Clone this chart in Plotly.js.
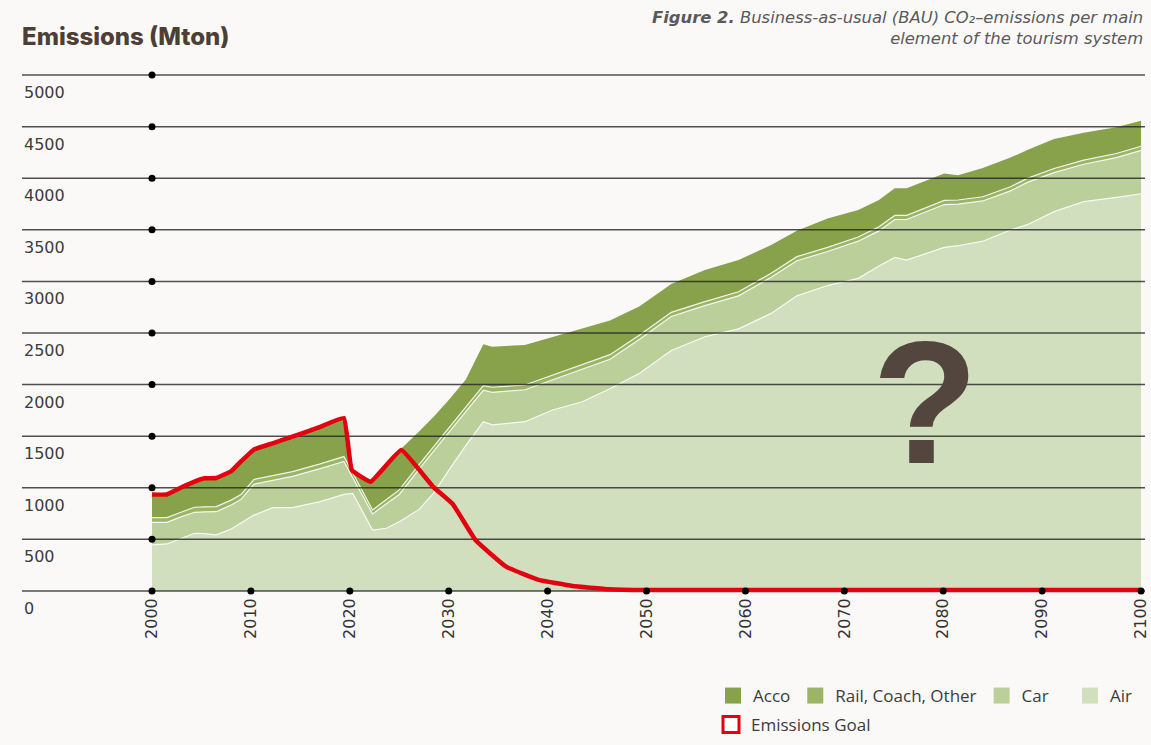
<!DOCTYPE html>
<html>
<head>
<meta charset="utf-8">
<script src="https://cdn.plot.ly/plotly-3.0.1.min.js"></script>
<style>
html,body{margin:0;padding:0;background:#faf9f7;}
#chart{width:1151px;height:745px;}
</style>
</head>
<body>
<div id="chart"></div>
<script>
// ---- data (Mton CO2) ----
const years = [2000, 2001.5, 2003, 2004.3, 2005.3, 2006.5, 2008, 2009, 2010.3, 2012.2, 2014.2, 2017, 2019.4, 2020.3, 2022.3, 2023.7, 2025, 2027, 2028.5, 2030, 2031.7, 2033.5, 2034.4, 2037.7, 2040.5, 2043.5, 2046.3, 2049.3, 2052.5, 2055.9, 2059.3, 2062.6, 2065.2, 2068.3, 2071.4, 2073.5, 2075.1, 2076.3, 2080.1, 2081.5, 2084, 2086.8, 2088.5, 2091.2, 2094.2, 2097.5, 2100];
const air  = [446, 455, 510, 559, 555, 543, 600, 660, 735, 807, 807, 865, 935, 945, 590, 607, 670, 790, 950, 1169, 1405, 1640, 1609, 1640, 1754, 1834, 1960, 2110, 2330, 2464, 2540, 2690, 2860, 2960, 3030, 3150, 3233, 3207, 3330, 3346, 3390, 3498, 3550, 3676, 3773, 3815, 3850];
const car  = [219, 210, 210, 203, 212, 225, 232, 227, 299, 263, 303, 320, 320, 152, 156, 238, 265, 390, 410, 371, 330, 305, 316, 310, 291, 316, 285, 330, 330, 301, 320, 350, 340, 330, 360, 340, 367, 393, 415, 404, 390, 380, 410, 379, 363, 385, 420];
const rail = [45, 45, 45, 49, 48, 49, 48, 48, 46, 44, 46, 46, 47, 45, 39, 41, 44, 45, 45, 44, 45, 45, 49, 46, 45, 45, 45, 40, 40, 39, 40, 39, 40, 40, 40, 40, 40, 40, 40, 39, 41, 40, 39, 40, 40, 40, 40];
const acco = [225, 225, 240, 249, 277, 278, 280, 320, 290, 317, 339, 359, 374, 23, 280, 331, 381, 319, 285, 267, 265, 400, 393, 388, 370, 350, 330, 280, 275, 306, 307, 274, 250, 280, 262, 259, 262, 262, 260, 241, 279, 282, 274, 285, 264, 255, 247];

const goalYears  = [2000, 2001.5, 2003, 2004.3, 2005.3, 2006.5, 2008, 2009, 2010.3, 2012.2, 2014.2, 2017, 2019.4, 2020.2, 2022.1, 2025.2, 2028.4, 2030.4, 2032.7, 2035.8, 2039.1, 2042.5, 2046.2, 2050, 2100];
const goalValues = [935, 935, 1005, 1060, 1092, 1095, 1160, 1255, 1370, 1431, 1495, 1590, 1676, 1172, 1059, 1366, 1011, 843, 494, 235, 107, 48, 16, 8, 8];

const yTickVals = [0, 500, 1000, 1500, 2000, 2500, 3000, 3500, 4000, 4500, 5000];
const yTickText = ['0', '500', '1000', '1500', '2000', '2500', '3000', '3500', '4000', '4500', '5000'];
const xTickVals = [2000, 2010, 2020, 2030, 2040, 2050, 2060, 2070, 2080, 2090, 2100];
const xTickText = ['2000', '2010', '2020', '2030', '2040', '2050', '2060', '2070', '2080', '2090', '2100'];

const seriesNames = ['Air', 'Car', 'Rail, Coach, Other', 'Acco'];
const seriesColors = ['#d1dfbf', '#bbcf9a', '#9bb465', '#87a24b'];
const goalName = 'Emissions Goal';

// ---- styles ----
const BG = '#faf9f7';
const RED = '#e3000f';
const xRange = [1986.855, 2100.4];
const yRange = [-30, 5030];

const seriesData = [air, car, rail, acco];
const traces = [];

// stacked areas
seriesData.forEach((vals, i) => {
  traces.push({
    type: 'scatter', mode: 'lines', x: years, y: vals, stackgroup: 'bau',
    name: seriesNames[i], fillcolor: seriesColors[i],
    line: {color: i === 3 ? 'rgba(0,0,0,0)' : 'rgba(255,255,255,0.85)', width: i === 3 ? 0 : 1.2},
    showlegend: false, hoverinfo: 'x+y+name'
  });
});

// horizontal grid lines drawn over the areas
const gx = [], gy = [];
yTickVals.forEach(v => { gx.push(xRange[0], xRange[1], null); gy.push(v, v, null); });
traces.push({type: 'scatter', mode: 'lines', x: gx, y: gy, line: {color: 'rgba(35,35,35,0.8)', width: 1.5},
  showlegend: false, hoverinfo: 'skip'});

// emissions goal
traces.push({type: 'scatter', mode: 'lines', x: goalYears, y: goalValues, name: goalName,
  line: {color: RED, width: 4.5, shape: 'spline', smoothing: 0.3}, showlegend: false});

// dots on grid / ticks
const dx = [], dy = [];
yTickVals.forEach(v => { dx.push(xTickVals[0]); dy.push(v); });
xTickVals.slice(1).forEach(t => { dx.push(t); dy.push(0); });
traces.push({type: 'scatter', mode: 'markers', x: dx, y: dy, marker: {color: '#000', size: 7},
  cliponaxis: false, showlegend: false, hoverinfo: 'skip'});

// legend entries (Acco, Rail, Car in legend; Air in legend3; goal in legend2)
[3, 2, 1, 0].forEach(i => {
  traces.push({type: 'scatter', mode: 'markers', x: [null], y: [null], name: seriesNames[i],
    marker: {symbol: 'square', size: 20, color: seriesColors[i]}, legend: i === 0 ? 'legend3' : 'legend', showlegend: true});
});
traces.push({type: 'scatter', mode: 'markers', x: [null], y: [null], name: goalName,
  marker: {symbol: 'square', size: 16, color: '#ffffff', line: {color: RED, width: 3}}, legend: 'legend2', showlegend: true});

const annotations = yTickVals.map((v, i) => ({
  xref: 'paper', yref: 'y', x: 0, y: v, xanchor: 'left', yanchor: 'top', xshift: 0, yshift: -6,
  text: yTickText[i], showarrow: false,
  font: {family: 'DejaVu Sans', size: 16, color: '#3c3c3c'}
}));
annotations.push({
  xref: 'paper', yref: 'paper', x: 1, y: 1.085, xanchor: 'right', yanchor: 'middle', align: 'right',
  showarrow: false,
  text: '<b>Figure 2.</b> Business-as-usual (BAU) CO₂–emissions per main<br>element of the tourism system',
  font: {family: 'DejaVu Sans', size: 16.4, color: '#5a5a5a', style: 'italic'}
});
annotations.push({
  xref: 'x', yref: 'y', x: 2078.2, y: 1830, showarrow: false, text: '?',
  font: {family: 'Liberation Sans', size: 174, color: '#52463e', weight: 'bold'}
});

const legendFont = {family: 'Open Sans', size: 17, color: '#3c3c3c'};
const legendBase = {orientation: 'h', xref: 'container', yref: 'container', xanchor: 'left', yanchor: 'top',
  bgcolor: 'rgba(0,0,0,0)', font: legendFont, itemclick: false, itemdoubleclick: false};
const layout = {
  width: 1151, height: 745,
  paper_bgcolor: BG, plot_bgcolor: BG,
  margin: {l: 22, r: 6, t: 72, b: 151},
  title: {text: 'Emissions (Mton)', x: 22 / 1151, xanchor: 'left', y: 1 - 37 / 745, yanchor: 'middle',
    font: {family: 'Inter', size: 24, color: '#4d3f36', weight: 800}},
  xaxis: {range: xRange, tickvals: xTickVals, ticktext: xTickText, tickangle: -90,
    showgrid: false, zeroline: false, showline: false, ticks: '', ticklabelstandoff: 0,
    ticklabeloverflow: 'allow', automargin: false,
    tickfont: {family: 'DejaVu Sans', size: 16, color: '#333'}, fixedrange: true},
  yaxis: {range: yRange, showgrid: false, zeroline: false, showline: false, showticklabels: false,
    ticks: '', fixedrange: true, automargin: false},
  showlegend: true,
  legend: Object.assign({}, legendBase, {traceorder: 'normal', x: 713 / 1151, y: 1 - 678 / 745}),
  legend3: Object.assign({}, legendBase, {x: 1070 / 1151, y: 1 - 678 / 745}),
  legend2: Object.assign({}, legendBase, {x: 711 / 1151, y: 1 - 707 / 745}),
  annotations: annotations,
  hovermode: 'closest'
};

Plotly.newPlot('chart', traces, layout, {displayModeBar: false});
</script>
</body>
</html>
